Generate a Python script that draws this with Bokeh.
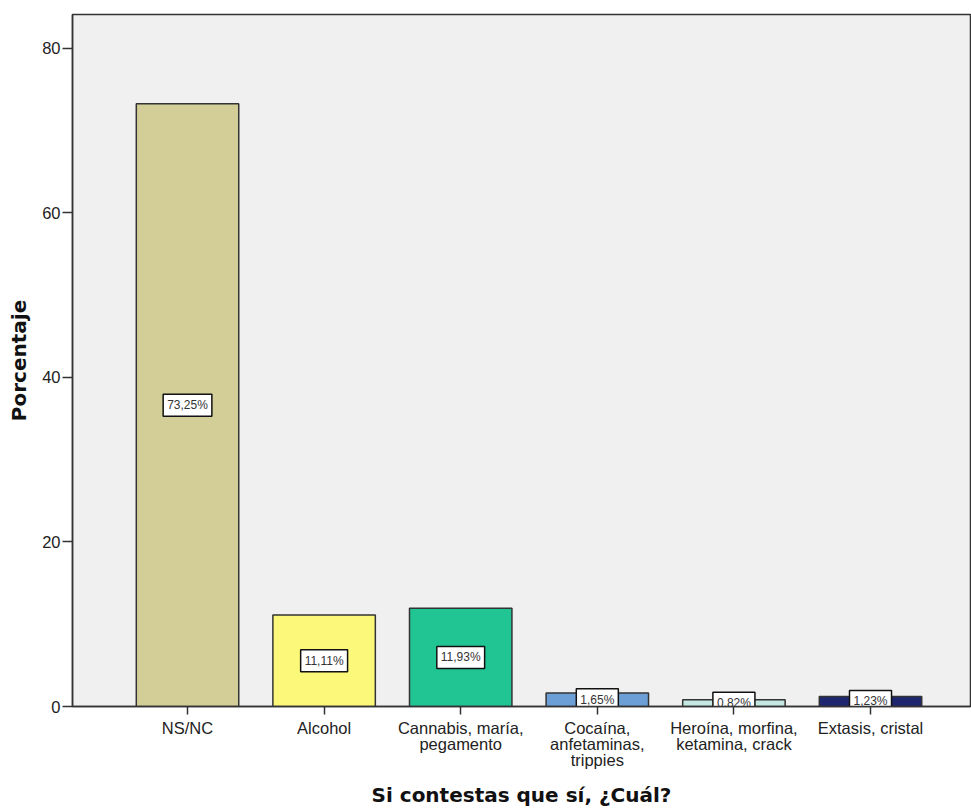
from bokeh.plotting import figure
from bokeh.models import ColumnDataSource, FixedTicker, Range1d
from bokeh.core.properties import value
from bokeh.embed import file_html
from bokeh.resources import INLINE

categories = ["NS/NC", "Alcohol", "Cannabis, maría,\npegamento",
              "Cocaína,\nanfetaminas,\ntrippies", "Heroína, morfina,\nketamina, crack",
              "Extasis, cristal"]
values = [73.25, 11.11, 11.93, 1.65, 0.82, 1.23]
labels = ["73,25%", "11,11%", "11,93%", "1,65%", "0,82%", "1,23%"]
colors = ["#d3ce97", "#fbf87a", "#20c593", "#6c9fd5", "#c5e8e2", "#1e2670"]
y_ticks = [0, 20, 40, 60, 80]

xs = list(range(len(categories)))
src = ColumnDataSource(dict(x=xs, top=values, mid=[v / 2 for v in values],
                            label=labels, color=colors))

p = figure(width=971, height=810, output_backend="svg", toolbar_location=None,
           x_range=Range1d(-0.842, 5.732), y_range=Range1d(0, 84.1),
           min_border_left=72, min_border_top=14, min_border_right=1,
           min_border_bottom=104)
p.background_fill_color = "#f0f0f0"
p.border_fill_color = "white"
p.outline_line_color = "#333333"
p.outline_line_width = 1.5
p.xgrid.visible = False
p.ygrid.visible = False

p.vbar(x="x", top="top", bottom=0, width=0.75, source=src, fill_color="color",
       line_color="#333333", line_width=1.5)

p.text(x="x", y="mid", text="label", source=src, text_align="center",
       text_baseline="middle", text_font=value("Liberation Sans"),
       text_font_size="12px", text_color="#333333",
       background_fill_color="white", border_line_color="#111111",
       border_line_width=1.5, padding=4)

p.xaxis.ticker = FixedTicker(ticks=xs)
p.xaxis.major_label_overrides = {i: c for i, c in zip(xs, categories)}
p.yaxis.ticker = FixedTicker(ticks=y_ticks)

for ax in (p.xaxis, p.yaxis):
    ax.axis_line_color = "#333333"
    ax.axis_line_width = 1.5
    ax.major_tick_line_color = "#333333"
    ax.major_tick_line_width = 1.5
    ax.minor_tick_line_color = None
    ax.major_tick_in = 0
    ax.major_label_text_font = "Liberation Sans"
    ax.major_label_text_font_size = "16.5px"
    ax.major_label_text_color = "#222222"
    ax.major_label_text_line_height = 0.9
    ax.axis_label_text_font = "DejaVu Sans"
    ax.axis_label_text_font_style = "bold"
    ax.axis_label_text_font_size = "20px"
    ax.axis_label_text_color = "#111111"

p.xaxis.major_tick_out = 8
p.yaxis.major_tick_out = 10
p.xaxis.major_label_standoff = 4
p.yaxis.major_label_standoff = 2
p.xaxis.axis_label = "Si contestas que sí, ¿Cuál?"
p.yaxis.axis_label = "Porcentaje"
p.xaxis.axis_label_standoff = 11
p.yaxis.axis_label_standoff = 8

open("out.html", "w").write(file_html(p, INLINE))
